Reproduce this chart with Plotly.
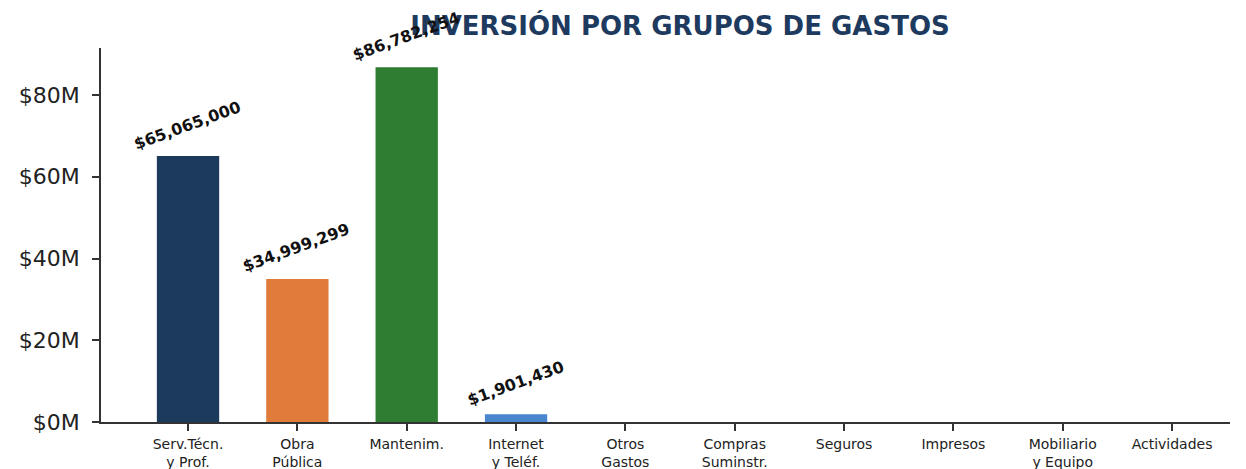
import plotly.graph_objects as go

categorias = ["Serv.Técn.<br>y Prof.", "Obra<br>Pública", "Mantenim.", "Internet<br>y Teléf.",
              "Otros<br>Gastos", "Compras<br>Suminstr.", "Seguros", "Impresos",
              "Mobiliario<br>y Equipo", "Actividades"]
montos = [65065000, 34999299, 86782254, 1901430, 0, 0, 0, 0, 0, 0]
colores = ["#1b3a5c", "#e07b3a", "#2e7d32", "#4a86d0", "#7b5ea7",
           "#c0392b", "#16a085", "#8e8e8e", "#b8860b", "#5d6d7e"]
y_ticks = [0, 20e6, 40e6, 60e6, 80e6]
y_labels = ["$0M", "$20M", "$40M", "$60M", "$80M"]

xs = list(range(len(categorias)))

fig = go.Figure()
fig.add_trace(go.Bar(
    x=xs, y=montos,
    marker=dict(color=colores, line=dict(width=0)),
    width=0.57,
    showlegend=False,
    hoverinfo="skip",
))

# etiquetas inclinadas sobre cada barra con monto
for x, v in zip(xs, montos):
    if v <= 0:
        continue
    fig.add_annotation(
        x=x, y=v, text=f"${v:,.0f}", showarrow=False,
        textangle=-20, yshift=31, xshift=-1,
        font=dict(family="DejaVu Sans", size=16, color="#111111", weight="bold"),
    )

# la página tiene un margen de 8px, por eso la figura es un poco más chica
W, H = 1238, 461
fig.update_layout(
    width=W, height=H,
    margin=dict(l=93, r=16, t=40, b=47),
    paper_bgcolor="white", plot_bgcolor="white",
    title=dict(
        text="<b>INVERSIÓN POR GRUPOS DE GASTOS</b>",
        x=672 / W, xanchor="center", xref="container",
        y=1 - 18 / H, yanchor="middle", yref="container",
        font=dict(family="DejaVu Sans", size=26, color="#1e3a5f"),
    ),
    font=dict(family="DejaVu Sans"),
)

fig.update_xaxes(
    range=[-0.796, 9.53],
    tickvals=xs, ticktext=categorias,
    showline=True, linecolor="#333333", linewidth=1.5,
    ticks="outside", ticklen=7, tickwidth=1.5, tickcolor="#333333",
    tickfont=dict(size=14, color="#222222"),
    ticklabelstandoff=1,
    showgrid=False, zeroline=False, automargin=False,
)
fig.update_yaxes(
    range=[0, 91.5e6],
    tickvals=y_ticks, ticktext=y_labels,
    showline=True, linecolor="#333333", linewidth=1.5,
    ticks="outside", ticklen=7, tickwidth=1.5, tickcolor="#333333",
    tickfont=dict(size=22, color="#222222"),
    ticklabelstandoff=8,
    showgrid=False, zeroline=False, automargin=False,
)

fig.write_html("out.html")
